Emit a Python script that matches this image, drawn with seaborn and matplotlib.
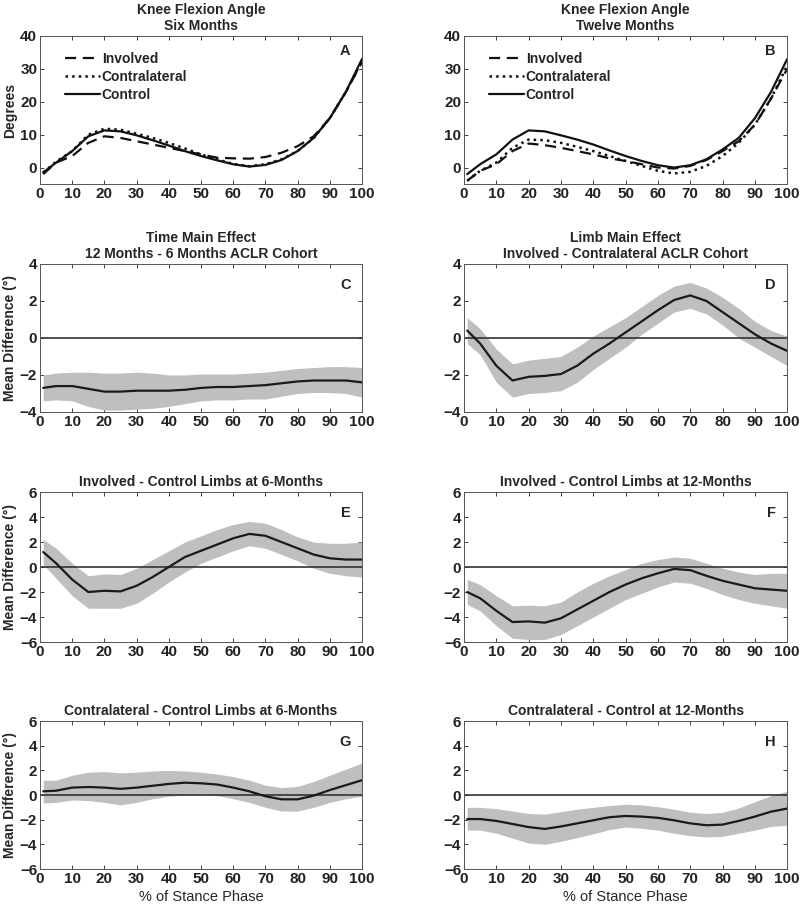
import numpy as np
import pandas as pd
import matplotlib.pyplot as plt
import seaborn as sns

# % of stance phase sample points
stance = [1, 5, 10, 15, 20, 25, 30, 35, 40, 45, 50, 55, 60, 65, 70, 75, 80, 85, 90, 95, 100]

# Knee flexion angle (degrees), panels A and B
a_involved = [-2, 1.5, 3.5, 7.5, 9.5, 9, 8, 7, 6, 5, 4, 3, 2.8, 2.7, 3.2, 4.5, 6.5, 9.5, 15, 23, 32]
a_contra = [-1.5, 1.8, 5, 10, 11.8, 11.5, 10.3, 9, 7.5, 5.8, 4, 2.5, 1.1, 0.4, 1, 2.5, 5, 9, 15, 23, 32.5]
a_control = [-1.5, 1.5, 5, 9.5, 11.3, 11, 9.8, 8.3, 6.7, 5, 3.5, 2.2, 1, 0.3, 0.8, 2.3, 5, 9, 15, 23, 33]
b_involved = [-4, -1, 1, 5, 7.3, 6.8, 6, 5, 4, 2.8, 2, 1, 0, -0.3, 0.5, 2.3, 5, 8, 13, 21, 30]
b_contra = [-4, -1, 1.5, 6, 8.5, 8.3, 7.5, 6.3, 5, 3.5, 2, 0.5, -1, -1.8, -1.3, 0.5, 3.5, 7.5, 13, 21, 31]
b_control = [-2, 1, 4, 8.5, 11.3, 11, 9.8, 8.5, 7, 5.2, 3.5, 2, 0.7, 0, 0.7, 2.5, 5.5, 9, 15, 23, 33]

# Mean differences with confidence bands, panels C-H
c_mean = [-2.7, -2.6, -2.6, -2.75, -2.9, -2.9, -2.85, -2.85, -2.85, -2.8, -2.7, -2.65, -2.65, -2.6, -2.55, -2.45, -2.35, -2.3, -2.3, -2.3, -2.4]
c_low = [-3.4, -3.35, -3.4, -3.7, -3.9, -3.9, -3.85, -3.8, -3.7, -3.55, -3.4, -3.35, -3.35, -3.3, -3.3, -3.15, -3.0, -2.95, -2.95, -3.0, -3.2]
c_high = [-2.0, -1.9, -1.85, -1.85, -1.9, -1.9, -1.85, -1.9, -2.0, -2.0, -1.95, -1.95, -1.95, -1.9, -1.85, -1.75, -1.65, -1.6, -1.55, -1.55, -1.6]

d_mean = [0.4, -0.3, -1.5, -2.3, -2.1, -2.05, -1.95, -1.5, -0.85, -0.3, 0.3, 0.9, 1.5, 2.05, 2.3, 2.0, 1.4, 0.8, 0.2, -0.3, -0.7]
d_low = [-0.3, -0.9, -2.4, -3.2, -3.0, -2.95, -2.85, -2.4, -1.7, -1.1, -0.5, 0.2, 0.8, 1.4, 1.6, 1.3, 0.7, 0.0, -0.5, -1.0, -1.5]
d_high = [1.1, 0.5, -0.6, -1.4, -1.2, -1.1, -1.0, -0.5, 0.1, 0.6, 1.1, 1.7, 2.3, 2.8, 3.0, 2.7, 2.2, 1.6, 0.9, 0.4, 0.1]

e_mean = [1.2, 0.3, -1.0, -2.0, -1.9, -1.95, -1.5, -0.8, 0.0, 0.8, 1.3, 1.8, 2.3, 2.65, 2.5, 2.0, 1.5, 1.0, 0.7, 0.6, 0.6]
e_low = [0.2, -0.9, -2.3, -3.3, -3.3, -3.3, -2.9, -2.1, -1.2, -0.4, 0.3, 0.8, 1.3, 1.7, 1.5, 1.0, 0.5, -0.1, -0.5, -0.7, -0.8]
e_high = [2.2, 1.5, 0.3, -0.7, -0.55, -0.6, -0.1, 0.6, 1.3, 2.0, 2.5, 3.0, 3.4, 3.65, 3.5, 3.0, 2.4, 2.0, 1.9, 1.9, 2.0]

f_mean = [-2.0, -2.5, -3.5, -4.4, -4.35, -4.45, -4.1, -3.4, -2.7, -2.0, -1.4, -0.9, -0.5, -0.15, -0.25, -0.7, -1.1, -1.4, -1.7, -1.8, -1.9]
f_low = [-3.0, -3.5, -4.7, -5.7, -5.8, -5.8, -5.4, -4.7, -4.0, -3.3, -2.6, -2.1, -1.6, -1.2, -1.3, -1.7, -2.2, -2.6, -2.9, -3.1, -3.3]
f_high = [-1.0, -1.4, -2.3, -3.1, -3.05, -3.1, -2.8, -2.0, -1.3, -0.7, -0.2, 0.3, 0.6, 0.8, 0.7, 0.3, -0.1, -0.4, -0.6, -0.5, -0.5]

g_mean = [0.3, 0.35, 0.6, 0.65, 0.6, 0.5, 0.6, 0.75, 0.9, 1.0, 0.95, 0.85, 0.6, 0.3, -0.1, -0.35, -0.35, -0.05, 0.4, 0.8, 1.2]
g_low = [-0.65, -0.6, -0.4, -0.45, -0.6, -0.8, -0.6, -0.3, -0.1, 0.0, 0.05, -0.05, -0.3, -0.6, -1.0, -1.3, -1.3, -1.0, -0.6, -0.3, -0.1]
g_high = [1.2, 1.2, 1.6, 1.85, 1.9, 1.8, 1.85, 1.95, 2.0, 1.95, 1.85, 1.7, 1.5, 1.2, 0.8, 0.6, 0.7, 1.1, 1.6, 2.1, 2.6]

h_mean = [-1.95, -1.95, -2.1, -2.35, -2.6, -2.75, -2.55, -2.3, -2.05, -1.8, -1.7, -1.75, -1.85, -2.05, -2.3, -2.45, -2.4, -2.1, -1.75, -1.35, -1.1]
h_low = [-2.85, -2.85, -3.1, -3.5, -3.9, -4.0, -3.75, -3.45, -3.15, -2.8, -2.6, -2.7, -2.85, -3.1, -3.3, -3.4, -3.35, -3.1, -2.85, -2.55, -2.45]
h_high = [-1.0, -1.0, -1.1, -1.3, -1.5, -1.55, -1.35, -1.15, -1.0, -0.85, -0.75, -0.8, -0.95, -1.15, -1.4, -1.5, -1.4, -1.05, -0.55, -0.05, 0.3]

sns.set_style("ticks")
plt.rcParams['font.family'] = ['Liberation Sans', 'DejaVu Sans']
plt.rcParams['font.weight'] = 'bold'
plt.rcParams['axes.labelweight'] = 'bold'
plt.rcParams['axes.titleweight'] = 'bold'

fig = plt.figure(figsize=(8, 9.09), dpi=100)

lefts = [0.05, 0.58]
widths = [0.4025, 0.404]
bottoms = [0.7976, 0.5468, 0.2937, 0.044]
heights = [0.1628, 0.1628, 0.165, 0.1628]


def style_axes(ax, ylim, yticks):
    ax.set_xlim(0, 100)
    ax.set_ylim(*ylim)
    ax.set_xticks(range(0, 101, 10))
    ax.set_yticks(yticks)
    ax.tick_params(direction='in', top=True, right=True, length=3, width=0.6,
                   labelsize=11, pad=2, colors='#222222')
    for lbl in ax.get_xticklabels() + ax.get_yticklabels():
        lbl.set_fontweight('bold')
    for sp in ax.spines.values():
        sp.set_visible(True)
        sp.set_linewidth(0.7)
        sp.set_color('#555555')
    ax.set_xlabel('')
    ax.set_ylabel('')


# Panels A and B: knee flexion angle
angle_panels = [
    ('Knee Flexion Angle\nSix Months', 'A', a_involved, a_contra, a_control),
    ('Knee Flexion Angle\nTwelve Months', 'B', b_involved, b_contra, b_control),
]
for col, (title, letter, inv, con, ctl) in enumerate(angle_panels):
    ax = fig.add_axes([lefts[col], bottoms[0], widths[col], heights[0]])
    sns.lineplot(x=stance, y=inv, ax=ax, color='#111111', lw=1.6, label='Involved')
    sns.lineplot(x=stance, y=con, ax=ax, color='#111111', lw=1.8, label='Contralateral')
    sns.lineplot(x=stance, y=ctl, ax=ax, color='#111111', lw=1.6, label='Control')
    ax.lines[0].set_dashes([5, 3])
    ax.lines[1].set_linestyle(':')
    style_axes(ax, (-5, 40), range(0, 41, 10))
    ax.set_title(title, fontsize=10, pad=4)
    ax.text(0.965, 0.9, letter, transform=ax.transAxes, ha='right', va='center',
            fontsize=10.5, fontweight='bold')
    leg = ax.legend(loc='upper left', frameon=False, fontsize=10, handlelength=2.5,
                    handletextpad=0.15, labelspacing=0.3, bbox_to_anchor=(0.06, 0.93),
                    borderaxespad=0)
    for t in leg.get_texts():
        t.set_fontweight('bold')
    if col == 0:
        ax.set_ylabel('Degrees', fontsize=10, labelpad=2)

# Panels C-H: mean differences
diff_panels = [
    ('Time Main Effect\n12 Months - 6 Months ACLR Cohort', 'C', c_mean, c_low, c_high, 1, 0),
    ('Limb Main Effect\nInvolved - Contralateral ACLR Cohort', 'D', d_mean, d_low, d_high, 1, 1),
    ('Involved - Control Limbs at 6-Months', 'E', e_mean, e_low, e_high, 2, 0),
    ('Involved - Control Limbs at 12-Months', 'F', f_mean, f_low, f_high, 2, 1),
    ('Contralateral - Control Limbs at 6-Months', 'G', g_mean, g_low, g_high, 3, 0),
    ('Contralateral - Control at 12-Months', 'H', h_mean, h_low, h_high, 3, 1),
]
for title, letter, mean, low, high, row, col in diff_panels:
    ax = fig.add_axes([lefts[col], bottoms[row], widths[col], heights[row]])
    ax.fill_between(stance, low, high, color='#bfbfbf', lw=0)
    ax.axhline(0, color='#333333', lw=1.2)
    sns.lineplot(x=stance, y=mean, ax=ax, color='#1a1a1a', lw=1.6)
    if row == 1:
        style_axes(ax, (-4, 4), range(-4, 5, 2))
    else:
        style_axes(ax, (-6, 6), range(-6, 7, 2))
    ax.set_title(title, fontsize=10, pad=4)
    ax.text(0.965, 0.86, letter, transform=ax.transAxes, ha='right', va='center',
            fontsize=10.5, fontweight='bold')
    if col == 0:
        ax.set_ylabel('Mean Difference (°)', fontsize=10, labelpad=2)
    if row == 3:
        ax.set_xlabel('% of Stance Phase', fontsize=10.5, fontweight='normal', labelpad=3)

fig.savefig('out.png', dpi=100)
